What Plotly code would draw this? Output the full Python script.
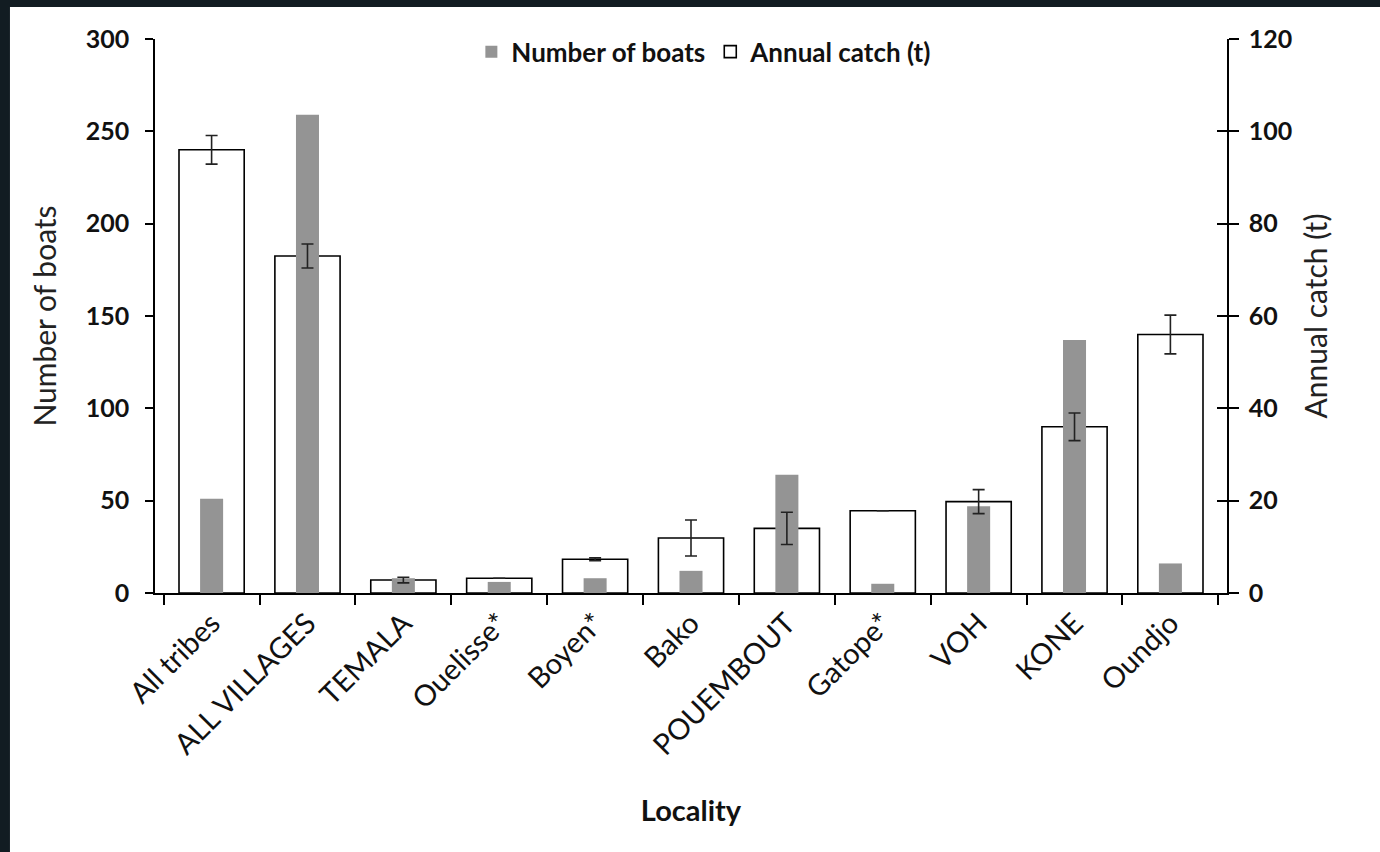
import plotly.graph_objects as go

localities = ["All tribes", "ALL VILLAGES", "TEMALA", "Ouelisse*", "Boyen*", "Bako",
              "POUEMBOUT", "Gatope*", "VOH", "KONE", "Oundjo"]
boats = [51, 259, 8, 6, 8, 12, 64, 5, 47, 137, 16]
catch = [96, 73, 2.8, 3.2, 7.3, 11.9, 14, 17.8, 19.8, 36, 56]
catch_err = [3.1, 2.6, 0.6, 0, 0.3, 3.9, 3.5, 0, 2.6, 3.0, 4.2]

boats_ticks = [0, 50, 100, 150, 200, 250, 300]
catch_ticks = [0, 20, 40, 60, 80, 100, 120]

FONT = "Lato"
fig = go.Figure()

# Annual catch: white bars (drawn first, underneath)
fig.add_trace(go.Bar(
    x=localities, y=catch, yaxis="y", name="Annual catch (t)",
    width=0.68, marker=dict(color="white", line=dict(color="black", width=1.6)),
    legendrank=2,
))
# Number of boats: grey bars on top
fig.add_trace(go.Bar(
    x=localities, y=boats, yaxis="y2", name="Number of boats",
    width=0.24, marker=dict(color="#949494", line=dict(width=0)),
    legendrank=1,
))
# Error bars of annual catch, on top of everything
fig.add_trace(go.Scatter(
    x=localities, y=catch, yaxis="y3", mode="markers", showlegend=False,
    marker=dict(size=1, color="rgba(0,0,0,0)"),
    error_y=dict(type="data", array=catch_err, visible=True, color="#222",
                 thickness=1.6, width=6),
    hoverinfo="skip",
))

fig.update_layout(
    width=1380, height=852,
    margin=dict(l=155, r=153, t=39, b=259),
    paper_bgcolor="#121c22", plot_bgcolor="white",
    barmode="overlay",
    font=dict(family=FONT, color="#111"),
    showlegend=True,
    legend=dict(orientation="h", x=0.512, xanchor="center", y=0.977, yanchor="middle",
                font=dict(family=FONT, size=26, color="#111", weight="bold"),
                bgcolor="rgba(0,0,0,0)", itemwidth=30, tracegroupgap=0),
    xaxis=dict(
        type="category", showline=True, linecolor="black", linewidth=1.6,
        ticks="outside", ticklen=10, tickcolor="black", tickwidth=1.6,
        tickson="boundaries", tickangle=-45, showgrid=False, zeroline=False,
        automargin=False,
        tickfont=dict(family=FONT, size=29, color="#111"),
        title=dict(text="<b>Locality</b>", font=dict(family=FONT, size=29, color="#111"),
                   standoff=41),
    ),
    yaxis=dict(
        side="right", range=[0, 120], tickvals=catch_ticks,
        showline=True, linecolor="black", linewidth=1.6,
        ticks="outside", ticklen=10, tickcolor="black", tickwidth=1.6,
        ticklabelstandoff=5, automargin=False,
        showgrid=False, zeroline=False,
        tickfont=dict(family=FONT, size=25, color="#111", weight="bold"),
        title=dict(text="Annual catch (t)", font=dict(family=FONT, size=30, color="#222"),
                   standoff=15),
    ),
    yaxis2=dict(
        side="left", overlaying="y", range=[0, 300], tickvals=boats_ticks,
        showline=True, linecolor="black", linewidth=1.6,
        ticks="outside", ticklen=8, tickcolor="black", tickwidth=1.6,
        ticklabelstandoff=11, automargin=False,
        showgrid=False, zeroline=False,
        tickfont=dict(family=FONT, size=25, color="#111", weight="bold"),
        title=dict(text="Number of boats", font=dict(family=FONT, size=30, color="#222"),
                   standoff=20),
    ),
    yaxis3=dict(
        side="right", overlaying="y", range=[0, 120], tickvals=catch_ticks,
        showline=False, ticks="inside", ticklen=10, tickcolor="black", tickwidth=1.6,
        showticklabels=False, showgrid=False, zeroline=False, automargin=False,
    ),
    shapes=[dict(type="rect", xref="paper", yref="paper",
                 x0=-0.1353, x1=1.2, y0=-0.5, y1=1.0578,
                 fillcolor="white", line=dict(width=0), layer="below")],
)

fig.write_html("out.html", config={"displayModeBar": False},
               post_script="document.body.style.margin='0';")
